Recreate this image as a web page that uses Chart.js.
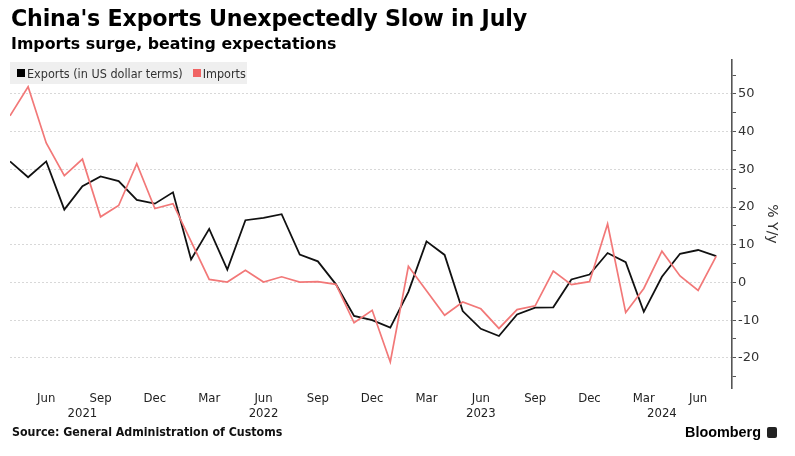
<!DOCTYPE html>
<html>
<head>
<meta charset="utf-8">
<script src="https://cdn.jsdelivr.net/npm/chart.js@4.4.1/dist/chart.umd.min.js"></script>
<style>
  html, body { margin: 0; padding: 0; background: #fff; }
  #wrap { position: relative; width: 795px; height: 456px; overflow: hidden; }
  #c { position: absolute; left: 0; top: 0; }
  .title { position: absolute; left: 11px; top: 5px; font: bold 22.2px 'DejaVu Sans', sans-serif; color: #000; white-space: nowrap; letter-spacing: -0.2px; }
  .sub { position: absolute; left: 11px; top: 34px; font: bold 15.8px 'DejaVu Sans', sans-serif; color: #000; white-space: nowrap; }
  .legend { position: absolute; left: 10px; top: 62px; width: 237px; height: 22px; background: #efefef; display: flex; align-items: center; font: 12.5px 'Liberation Sans Narrow', 'DejaVu Sans Condensed', 'Roboto Condensed', sans-serif; color: #333; white-space: nowrap; }
  .legend .sw { display: inline-block; width: 8px; height: 8px; margin: 0 2px 0 0; }
  .legend .item { display: flex; align-items: center; margin-left: 7px; }
  .legend .item + .item { margin-left: 10px; }
  .source { position: absolute; left: 12px; top: 425px; font: bold 12.3px 'Liberation Sans Narrow', 'DejaVu Sans Condensed', sans-serif; color: #111; white-space: nowrap; }
  .brand { position: absolute; left: 685px; top: 424px; font: bold 14.4px 'Liberation Sans', sans-serif; color: #000; white-space: nowrap; display: flex; align-items: center; }
  .brand .logo { display: inline-block; width: 10px; height: 11px; background: #222; border-radius: 2px; margin-left: 6px; }
</style>
</head>
<body>
<div id="wrap">
  <canvas id="c" width="795" height="456"></canvas>
  <div class="title">China's Exports Unexpectedly Slow in July</div>
  <div class="sub">Imports surge, beating expectations</div>
  <div class="legend">
    <span class="item"><span class="sw" style="background:#000"></span>Exports (in US dollar terms)</span>
    <span class="item"><span class="sw" style="background:#f06464"></span>Imports</span>
  </div>
  <div class="source">Source: General Administration of Customs</div>
  <div class="brand">Bloomberg<span class="logo"></span></div>
</div>
<script>
// Months (Apr 2021 - Jul 2024)
const categories = [
  '2021-04','2021-05','2021-06','2021-07','2021-08','2021-09','2021-10','2021-11','2021-12',
  '2022-01','2022-02','2022-03','2022-04','2022-05','2022-06','2022-07','2022-08','2022-09','2022-10','2022-11','2022-12',
  '2023-01','2023-02','2023-03','2023-04','2023-05','2023-06','2023-07','2023-08','2023-09','2023-10','2023-11','2023-12',
  '2024-01','2024-02','2024-03','2024-04','2024-05','2024-06','2024-07'
];

// Exports, % y/y (in US dollar terms)
const exportsYoY = [
  32.1, 27.9, 32.1, 19.3, 25.5, 28.1, 26.9, 21.9, 20.9,
  23.9, 6.1, 14.2, 3.4, 16.5, 17.1, 18.1, 7.4, 5.6, -0.5, -8.9, -10.0,
  -12.0, -2.5, 10.9, 7.3, -7.6, -12.3, -14.2, -8.5, -6.7, -6.6, 0.8, 2.1,
  7.8, 5.4, -7.8, 1.5, 7.6, 8.6, 7.0
];

// Imports, % y/y
const importsYoY = [
  44.2, 51.9, 37.0, 28.3, 32.7, 17.4, 20.4, 31.5, 19.6,
  20.9, 10.9, 0.8, 0.1, 3.2, 0.1, 1.5, 0.1, 0.2, -0.5, -10.7, -7.4,
  -21.1, 4.3, -2.2, -8.7, -5.2, -7.0, -12.2, -7.2, -6.2, 3.0, -0.6, 0.2,
  15.5, -8.0, -1.6, 8.3, 1.7, -2.1, 7.0
];

// Tick labels
const monthNames = {'03': 'Mar', '06': 'Jun', '09': 'Sep', '12': 'Dec'};
const yearLabels = {'2021-08': '2021', '2022-06': '2022', '2023-06': '2023', '2024-04': '2024'};
const yTitle = '% Y/y';

const FONT_NARROW = "'Liberation Sans Narrow', 'DejaVu Sans Condensed', 'Roboto Condensed', sans-serif";

const toPoints = arr => arr.map((v, i) => ({x: i, y: v}));

new Chart(document.getElementById('c'), {
  type: 'line',
  data: {
    datasets: [
      { label: 'Imports', data: toPoints(importsYoY), borderColor: '#f27878', borderWidth: 1.7, pointRadius: 0, tension: 0 },
      { label: 'Exports (in US dollar terms)', data: toPoints(exportsYoY), borderColor: '#111', borderWidth: 1.8, pointRadius: 0, tension: 0 }
    ]
  },
  options: {
    responsive: false,
    devicePixelRatio: 1,
    animation: false,
    events: [],
    layout: { padding: { left: 10, top: 60, right: 11, bottom: 28 } },
    plugins: { legend: { display: false }, tooltip: { enabled: false }, title: { display: false } },
    scales: {
      x: {
        type: 'linear',
        min: 0,
        max: categories.length - 1 + 0.87,
        afterFit: s => { s.height = 40; },
        afterBuildTicks: s => { s.ticks = categories.map((c, i) => ({ value: i })); },
        grid: { display: false, drawTicks: false },
        border: { display: false },
        ticks: {
          autoSkip: false,
          maxRotation: 0,
          padding: 3,
          color: '#222',
          font: { family: FONT_NARROW, size: 13, lineHeight: 1.15 },
          callback: (v) => {
            const c = categories[v];
            if (!c) return '';
            const m = monthNames[c.slice(5)] || '';
            const y = yearLabels[c];
            if (y) return [m, y];
            return m;
          }
        }
      },
      y: {
        position: 'right',
        min: -28,
        max: 59,
        afterFit: s => { s.width = 52; },
        border: { display: true, color: '#555', width: 1.6, dash: [2, 2] },
        grid: {
          color: c => (c.tick && c.tick.value % 10 === 0) ? '#d8d8d8' : 'rgba(0,0,0,0)',
          lineWidth: 1,
          tickColor: '#555',
          tickLength: 4,
          drawTicks: true
        },
        ticks: {
          stepSize: 5,
          includeBounds: false,
          padding: 2,
          color: '#333',
          font: { family: "'DejaVu Sans', sans-serif", size: 13 },
          callback: v => (v % 10 === 0 ? String(v) : '')
        },
        title: {
          display: true,
          text: yTitle,
          color: '#333',
          font: { family: "'DejaVu Sans', sans-serif", size: 14 },
          padding: { top: 4, bottom: 4 }
        }
      }
    }
  }
});
</script>
</body>
</html>
